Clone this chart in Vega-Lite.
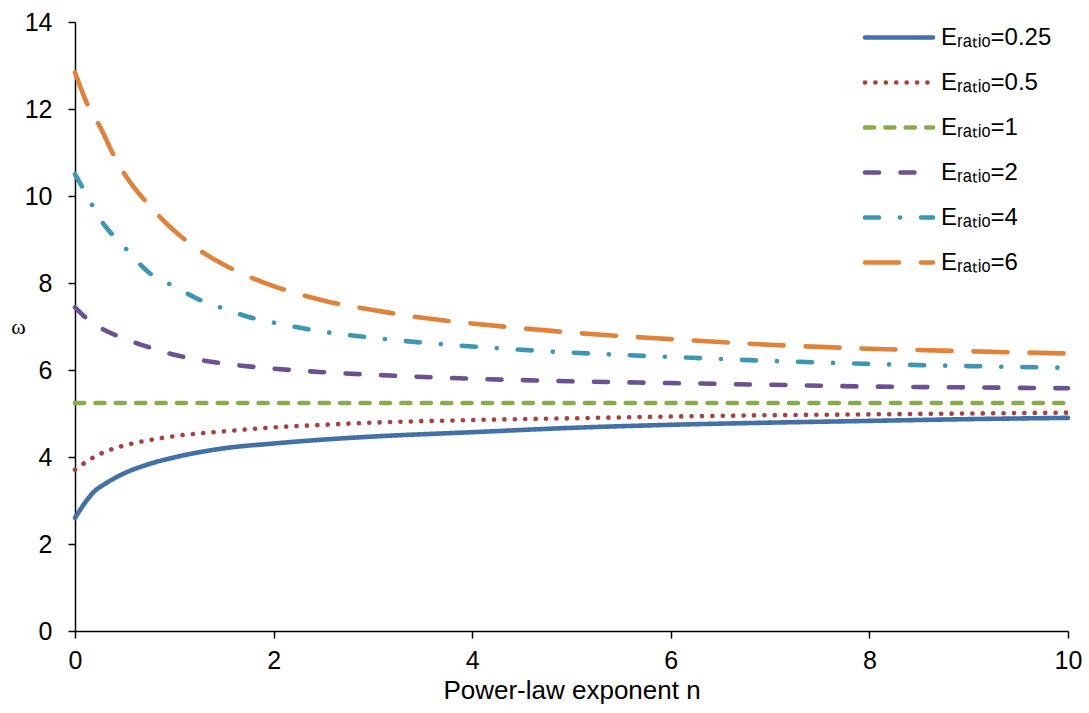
{
  "$schema": "https://vega.github.io/schema/vega-lite/v6.json",
  "width": 993,
  "height": 609,
  "autosize": "none",
  "padding": {"left": 75, "top": 22, "right": 21, "bottom": 82},
  "background": "white",
  "config": {
    "view": {"stroke": null},
    "font": "Liberation Sans",
    "axis": {
      "grid": false,
      "domainColor": "black",
      "domainWidth": 1.5,
      "tickColor": "black",
      "tickWidth": 1.5,
      "tickSize": 7,
      "labelFont": "Liberation Sans",
      "labelFontSize": 25,
      "labelColor": "black",
      "titleFont": "Liberation Sans",
      "titleFontSize": 26,
      "titleFontWeight": "normal",
      "titleColor": "black"
    }
  },
  "data": {
    "values": [
      {"E": "0.25", "n": 0, "omega": 2.60},
      {"E": "0.25", "n": 0.2, "omega": 3.22},
      {"E": "0.25", "n": 0.3, "omega": 3.38},
      {"E": "0.25", "n": 0.5, "omega": 3.63},
      {"E": "0.25", "n": 0.75, "omega": 3.84},
      {"E": "0.25", "n": 1, "omega": 3.99},
      {"E": "0.25", "n": 1.5, "omega": 4.20},
      {"E": "0.25", "n": 2, "omega": 4.31},
      {"E": "0.25", "n": 2.5, "omega": 4.40},
      {"E": "0.25", "n": 3, "omega": 4.47},
      {"E": "0.25", "n": 4, "omega": 4.57},
      {"E": "0.25", "n": 5, "omega": 4.67},
      {"E": "0.25", "n": 6, "omega": 4.74},
      {"E": "0.25", "n": 7, "omega": 4.79},
      {"E": "0.25", "n": 8, "omega": 4.83},
      {"E": "0.25", "n": 9, "omega": 4.87},
      {"E": "0.25", "n": 10, "omega": 4.90},

      {"E": "0.5", "n": 0, "omega": 3.71},
      {"E": "0.5", "n": 0.2, "omega": 4.01},
      {"E": "0.5", "n": 0.4, "omega": 4.20},
      {"E": "0.5", "n": 0.6, "omega": 4.32},
      {"E": "0.5", "n": 0.8, "omega": 4.41},
      {"E": "0.5", "n": 1, "omega": 4.48},
      {"E": "0.5", "n": 1.5, "omega": 4.59},
      {"E": "0.5", "n": 2, "omega": 4.68},
      {"E": "0.5", "n": 2.5, "omega": 4.74},
      {"E": "0.5", "n": 3, "omega": 4.79},
      {"E": "0.5", "n": 4, "omega": 4.85},
      {"E": "0.5", "n": 5, "omega": 4.89},
      {"E": "0.5", "n": 6, "omega": 4.93},
      {"E": "0.5", "n": 7, "omega": 4.96},
      {"E": "0.5", "n": 8, "omega": 4.98},
      {"E": "0.5", "n": 9, "omega": 5.00},
      {"E": "0.5", "n": 10, "omega": 5.02},

      {"E": "1", "n": 0, "omega": 5.24},
      {"E": "1", "n": 10, "omega": 5.24},

      {"E": "2", "n": 0, "omega": 7.44},
      {"E": "2", "n": 0.1, "omega": 7.22},
      {"E": "2", "n": 0.25, "omega": 6.98},
      {"E": "2", "n": 0.5, "omega": 6.72},
      {"E": "2", "n": 0.75, "omega": 6.52},
      {"E": "2", "n": 1, "omega": 6.35},
      {"E": "2", "n": 1.5, "omega": 6.15},
      {"E": "2", "n": 2, "omega": 6.03},
      {"E": "2", "n": 2.5, "omega": 5.95},
      {"E": "2", "n": 3, "omega": 5.89},
      {"E": "2", "n": 4, "omega": 5.80},
      {"E": "2", "n": 5, "omega": 5.74},
      {"E": "2", "n": 6, "omega": 5.70},
      {"E": "2", "n": 7, "omega": 5.66},
      {"E": "2", "n": 8, "omega": 5.62},
      {"E": "2", "n": 9, "omega": 5.60},
      {"E": "2", "n": 10, "omega": 5.58},

      {"E": "4", "n": 0, "omega": 10.50},
      {"E": "4", "n": 0.1, "omega": 10.10},
      {"E": "4", "n": 0.25, "omega": 9.48},
      {"E": "4", "n": 0.5, "omega": 8.82},
      {"E": "4", "n": 0.75, "omega": 8.23},
      {"E": "4", "n": 1, "omega": 7.92},
      {"E": "4", "n": 1.25, "omega": 7.62},
      {"E": "4", "n": 1.5, "omega": 7.41},
      {"E": "4", "n": 1.75, "omega": 7.22},
      {"E": "4", "n": 2, "omega": 7.09},
      {"E": "4", "n": 2.5, "omega": 6.88},
      {"E": "4", "n": 3, "omega": 6.74},
      {"E": "4", "n": 3.5, "omega": 6.63},
      {"E": "4", "n": 4, "omega": 6.54},
      {"E": "4", "n": 5, "omega": 6.40},
      {"E": "4", "n": 6, "omega": 6.30},
      {"E": "4", "n": 7, "omega": 6.21},
      {"E": "4", "n": 8, "omega": 6.14},
      {"E": "4", "n": 9, "omega": 6.09},
      {"E": "4", "n": 10, "omega": 6.05},

      {"E": "6", "n": 0, "omega": 12.84},
      {"E": "6", "n": 0.14, "omega": 12.03},
      {"E": "6", "n": 0.25, "omega": 11.60},
      {"E": "6", "n": 0.4, "omega": 10.89},
      {"E": "6", "n": 0.5, "omega": 10.50},
      {"E": "6", "n": 0.75, "omega": 9.78},
      {"E": "6", "n": 1, "omega": 9.20},
      {"E": "6", "n": 1.25, "omega": 8.76},
      {"E": "6", "n": 1.5, "omega": 8.42},
      {"E": "6", "n": 1.75, "omega": 8.15},
      {"E": "6", "n": 2, "omega": 7.93},
      {"E": "6", "n": 2.5, "omega": 7.60},
      {"E": "6", "n": 3, "omega": 7.38},
      {"E": "6", "n": 3.5, "omega": 7.20},
      {"E": "6", "n": 4, "omega": 7.07},
      {"E": "6", "n": 4.5, "omega": 6.96},
      {"E": "6", "n": 5, "omega": 6.86},
      {"E": "6", "n": 6, "omega": 6.71},
      {"E": "6", "n": 7, "omega": 6.58},
      {"E": "6", "n": 8, "omega": 6.49},
      {"E": "6", "n": 9, "omega": 6.43},
      {"E": "6", "n": 10, "omega": 6.38}
    ]
  },
  "mark": {"type": "line", "strokeWidth": 4.6, "strokeCap": "round", "strokeJoin": "round", "interpolate": "monotone"},
  "encoding": {
    "x": {
      "field": "n", "type": "quantitative",
      "scale": {"domain": [0, 10], "nice": false},
      "axis": {"title": "Power-law exponent n", "values": [0, 2, 4, 6, 8, 10], "labelPadding": 10, "titlePadding": 4, "labelFlush": false}
    },
    "y": {
      "field": "omega", "type": "quantitative",
      "scale": {"domain": [0, 14], "nice": false},
      "axis": {"title": "ω", "values": [0, 2, 4, 6, 8, 10, 12, 14], "labelPadding": 16, "titleAngle": 0, "titleX": -57, "titleY": 304, "titleAlign": "center", "titleBaseline": "middle", "titleFont": "Liberation Serif", "titleFontSize": 22}
    },
    "color": {
      "field": "E", "type": "nominal",
      "scale": {"domain": ["0.25", "0.5", "1", "2", "4", "6"], "range": ["#4470A8", "#A8403E", "#8AAA4E", "#6B5192", "#3D97B3", "#E0823A"]},
      "legend": {
        "title": null, "orient": "none", "legendX": 812, "legendY": 3.5, "padding": 0,
        "symbolType": "M-5,0H5", "symbolSize": 185, "symbolStrokeWidth": 4.6,
        "labelFont": "Liberation Sans", "labelFontSize": 24, "labelColor": "black", "labelOffset": 30, "rowPadding": 21,
        "labelExpr": "'Eᵣₐₜᵢₒ=' + datum.label",
        "encode": {"symbols": {"update": {"strokeCap": {"value": "round"}}}}
      }
    },
    "strokeDash": {
      "field": "E", "type": "nominal",
      "scale": {"domain": ["0.25", "0.5", "1", "2", "4", "6"], "range": [[1, 0], [0.1, 10.3], [9, 11.4], [14, 21.5], [14, 21, 0.1, 21], [34, 22]]},
      "legend": {
        "title": null, "orient": "none", "legendX": 812, "legendY": 3.5, "padding": 0,
        "symbolType": "M-5,0H5", "symbolSize": 185, "symbolStrokeWidth": 4.6,
        "labelFont": "Liberation Sans", "labelFontSize": 24, "labelColor": "black", "labelOffset": 30, "rowPadding": 21,
        "labelExpr": "'Eᵣₐₜᵢₒ=' + datum.label",
        "encode": {"symbols": {"update": {"strokeCap": {"value": "round"}}}}
      }
    }
  }
}
